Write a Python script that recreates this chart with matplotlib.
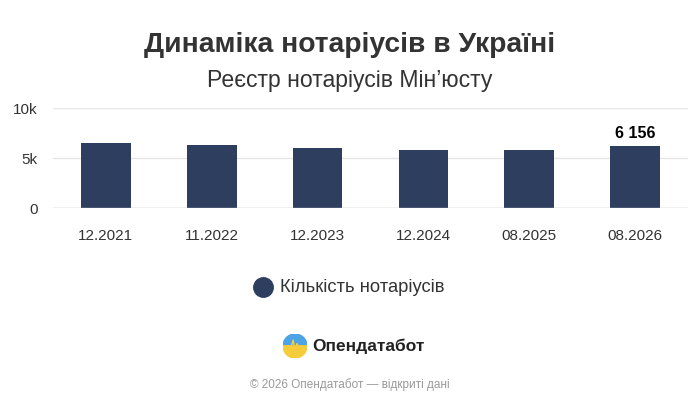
import matplotlib
matplotlib.use("Agg")
import matplotlib.pyplot as plt
from matplotlib.patches import Wedge
from matplotlib.lines import Line2D

categories = ["12.2021", "11.2022", "12.2023", "12.2024", "08.2025", "08.2026"]
values = [6480, 6330, 6000, 5760, 5760, 6156]
yticks = [0, 5000, 10000]
ytick_labels = ["0", "5k", "10k"]

plt.rcParams['font.family'] = ['Liberation Sans', 'DejaVu Sans']
fig = plt.figure(figsize=(7, 4.08), dpi=100)
ax = fig.add_axes([53/700, 1-208/408, 635/700, 100/408])
bar_color = "#2d3e5f"
ax.bar(range(len(categories)), values, width=0.47, color=bar_color, zorder=3)
ax.set_xlim(-0.5, len(categories)-0.5)
ax.set_ylim(0, 10000)
ax.set_yticks(yticks)
ax.set_yticklabels(ytick_labels, fontsize=11, color="#333333")
ax.set_xticks(range(len(categories)))
ax.set_xticklabels(categories, fontsize=11, color="#333333")
ax.tick_params(length=0, pad=11)
ax.tick_params(axis='x', pad=15)
for s in ax.spines.values():
    s.set_visible(False)
ax.grid(axis='y', color="#e6e6e6", lw=1, zorder=0)
ax.axhline(0, color="#cccccc", lw=1, zorder=4)
ax.text(len(categories)-1, values[-1]+500, "6 156", ha='center', va='bottom',
        fontsize=11.5, fontweight='bold', color='black')

fig.text(0.5, 1-45/408, "Динаміка нотаріусів в Україні", ha='center', va='center',
         fontsize=20.3, fontweight='bold', color='#333333')
fig.text(0.5, 1-80/408, "Реєстр нотаріусів Мін’юсту", ha='center', va='center',
         fontsize=16.6, color='#333333')

# legend
fig.add_artist(Line2D([263/700], [1-287/408], transform=fig.transFigure, marker='o',
                      markersize=14, color=bar_color, linestyle='none'))
fig.text(280/700, 1-287/408, "Кількість нотаріусів", ha='left', va='center',
         fontsize=13.2, color='#333333')

# logo
ax2 = fig.add_axes([283/700, 1-358/408, 24/700, 24/408])
ax2.set_xlim(-1, 1); ax2.set_ylim(-1, 1); ax2.set_aspect('equal'); ax2.axis('off')
ax2.add_patch(Wedge((0, 0), 1, 0, 180, color="#4da3e6"))
ax2.add_patch(Wedge((0, 0), 1, 180, 360, color="#f5cc3c"))
ax2.plot([-1, -0.3, -0.15, 0, 0.15, 0.3, 1], [0, 0, 0.5, -0.4, 0.2, 0, 0], color="#f5cc3c", lw=1)
fig.text(312/700, 1-346/408, "Опендатабот", ha='left', va='center', fontsize=12.5,
         fontweight='bold', color='#222222')
fig.text(0.5, 1-385/408, "© 2026 Опендатабот — відкриті дані", ha='center', va='center',
         fontsize=8.5, color='#999999')

fig.savefig("out.png", dpi=100, facecolor='white')
